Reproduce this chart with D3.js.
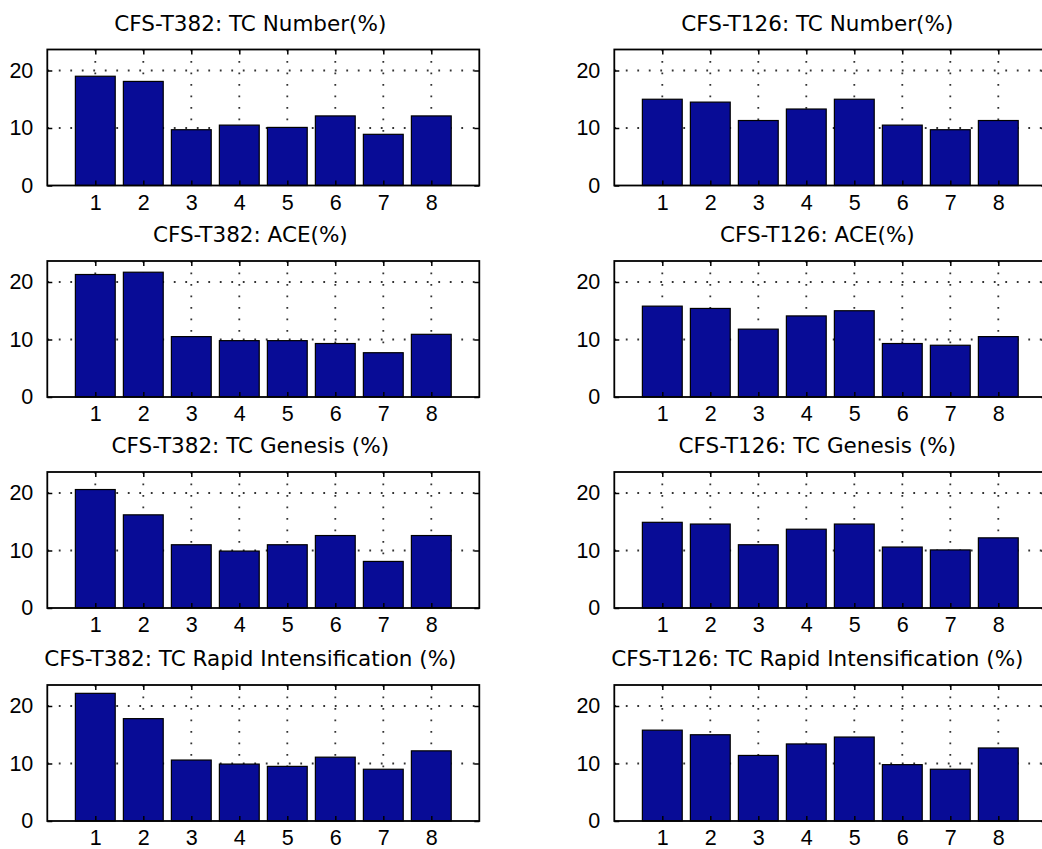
<!DOCTYPE html>
<html>
<head>
<meta charset="utf-8">
<script src="https://cdn.jsdelivr.net/npm/d3@7/dist/d3.min.js"></script>
<style>
  html, body { margin: 0; padding: 0; background: #fff; }
  svg { display: block; }
</style>
</head>
<body>
<svg id="chart" width="1042" height="849"></svg>
<script>
// Categories on the x axis and y tick values shared by every panel
const categories = [1, 2, 3, 4, 5, 6, 7, 8];
const yTicks = [0, 10, 20];

// Percentages per category, one array per panel
const t382Number  = [19.0, 18.1, 9.7, 10.5, 10.1, 12.1, 8.9, 12.1];
const t126Number  = [15.0, 14.5, 11.3, 13.3, 15.0, 10.5, 9.7, 11.3];
const t382ACE     = [21.3, 21.7, 10.5, 9.8, 9.8, 9.3, 7.7, 10.9];
const t126ACE     = [15.8, 15.4, 11.8, 14.1, 15.0, 9.3, 9.0, 10.5];
const t382Genesis = [20.6, 16.2, 11.0, 9.9, 11.0, 12.6, 8.1, 12.6];
const t126Genesis = [14.9, 14.6, 11.0, 13.7, 14.6, 10.6, 10.1, 12.2];
const t382RI      = [22.2, 17.8, 10.6, 9.9, 9.5, 11.1, 9.0, 12.2];
const t126RI      = [15.8, 15.0, 11.4, 13.4, 14.6, 9.8, 9.0, 12.7];

// Panel titles, row by row (left, right)
const titles = [
  "CFS-T382: TC Number(%)", "CFS-T126: TC Number(%)",
  "CFS-T382: ACE(%)", "CFS-T126: ACE(%)",
  "CFS-T382: TC Genesis (%)", "CFS-T126: TC Genesis (%)",
  "CFS-T382: TC Rapid Intensification (%)", "CFS-T126: TC Rapid Intensification (%)"
];
const series = [t382Number, t126Number, t382ACE, t126ACE,
                t382Genesis, t126Genesis, t382RI, t126RI];

// Layout of the 4 x 2 grid of axes
const colLeft = [47.3, 614.3];
const rowTop = [49.5, 261, 472, 685];
const axW = 432, axH = 136;
const xDomain = [0, 9];
const yDomain = [0, 23.65];
const barColor = "#080c96";

const svg = d3.select("#chart");
svg.append("rect").attr("width", 1042).attr("height", 849).attr("fill", "#fff");

const x = d3.scaleLinear().domain(xDomain).range([0, axW]);
const y = d3.scaleLinear().domain(yDomain).range([axH, 0]);
const barW = 0.83 * (x(1) - x(0));

series.forEach((values, i) => {
  const col = i % 2, row = Math.floor(i / 2);
  const g = svg.append("g")
    .attr("transform", `translate(${colLeft[col]},${rowTop[row]})`);

  // dotted grid beneath the bars
  const grid = g.append("g")
    .attr("stroke", "#333")
    .attr("stroke-width", 1.8)
    .attr("stroke-dasharray", "1.8 9.7");
  grid.selectAll("line.v").data(categories).join("line")
    .attr("class", "v")
    .attr("x1", d => x(d)).attr("x2", d => x(d))
    .attr("y1", 0).attr("y2", axH);
  grid.selectAll("line.h").data(yTicks.filter(t => t > 0)).join("line")
    .attr("class", "h")
    .attr("x1", 0).attr("x2", axW)
    .attr("y1", d => y(d)).attr("y2", d => y(d));

  // bars
  g.selectAll("rect.bar").data(values).join("rect")
    .attr("class", "bar")
    .attr("x", (d, j) => x(categories[j]) - barW / 2)
    .attr("width", barW)
    .attr("y", d => y(d))
    .attr("height", d => y(0) - y(d))
    .attr("fill", barColor)
    .attr("stroke", "#000")
    .attr("stroke-width", 1.2);

  // axes with inward ticks
  const styleAxis = sel => {
    sel.select(".domain").remove();
    sel.selectAll(".tick line").attr("stroke", "#000").attr("stroke-width", 1.5);
    sel.selectAll(".tick text")
      .attr("fill", "#000")
      .style("font-family", "'Liberation Sans', Arial, sans-serif")
      .style("font-size", "21.5px");
  };
  g.append("g").attr("transform", `translate(0,${axH})`)
    .call(d3.axisBottom(x).tickValues(categories).tickSize(-5).tickPadding(9))
    .call(styleAxis);
  g.append("g")
    .call(d3.axisTop(x).tickValues(categories).tickSize(-5).tickFormat(""))
    .call(styleAxis);
  g.append("g")
    .call(d3.axisLeft(y).tickValues(yTicks).tickSize(-5).tickPadding(14))
    .call(styleAxis);
  g.append("g").attr("transform", `translate(${axW},0)`)
    .call(d3.axisRight(y).tickValues(yTicks).tickSize(-5).tickFormat(""))
    .call(styleAxis);

  // frame
  g.append("rect")
    .attr("width", axW).attr("height", axH)
    .attr("fill", "none").attr("stroke", "#000").attr("stroke-width", 1.8);

  // title
  g.append("text")
    .attr("x", axW / 2 - 13)
    .attr("y", -19)
    .attr("text-anchor", "middle")
    .attr("fill", "#000")
    .style("font-family", "'DejaVu Sans', sans-serif")
    .style("font-size", "21.5px")
    .text(titles[i]);
});
</script>
</body>
</html>
